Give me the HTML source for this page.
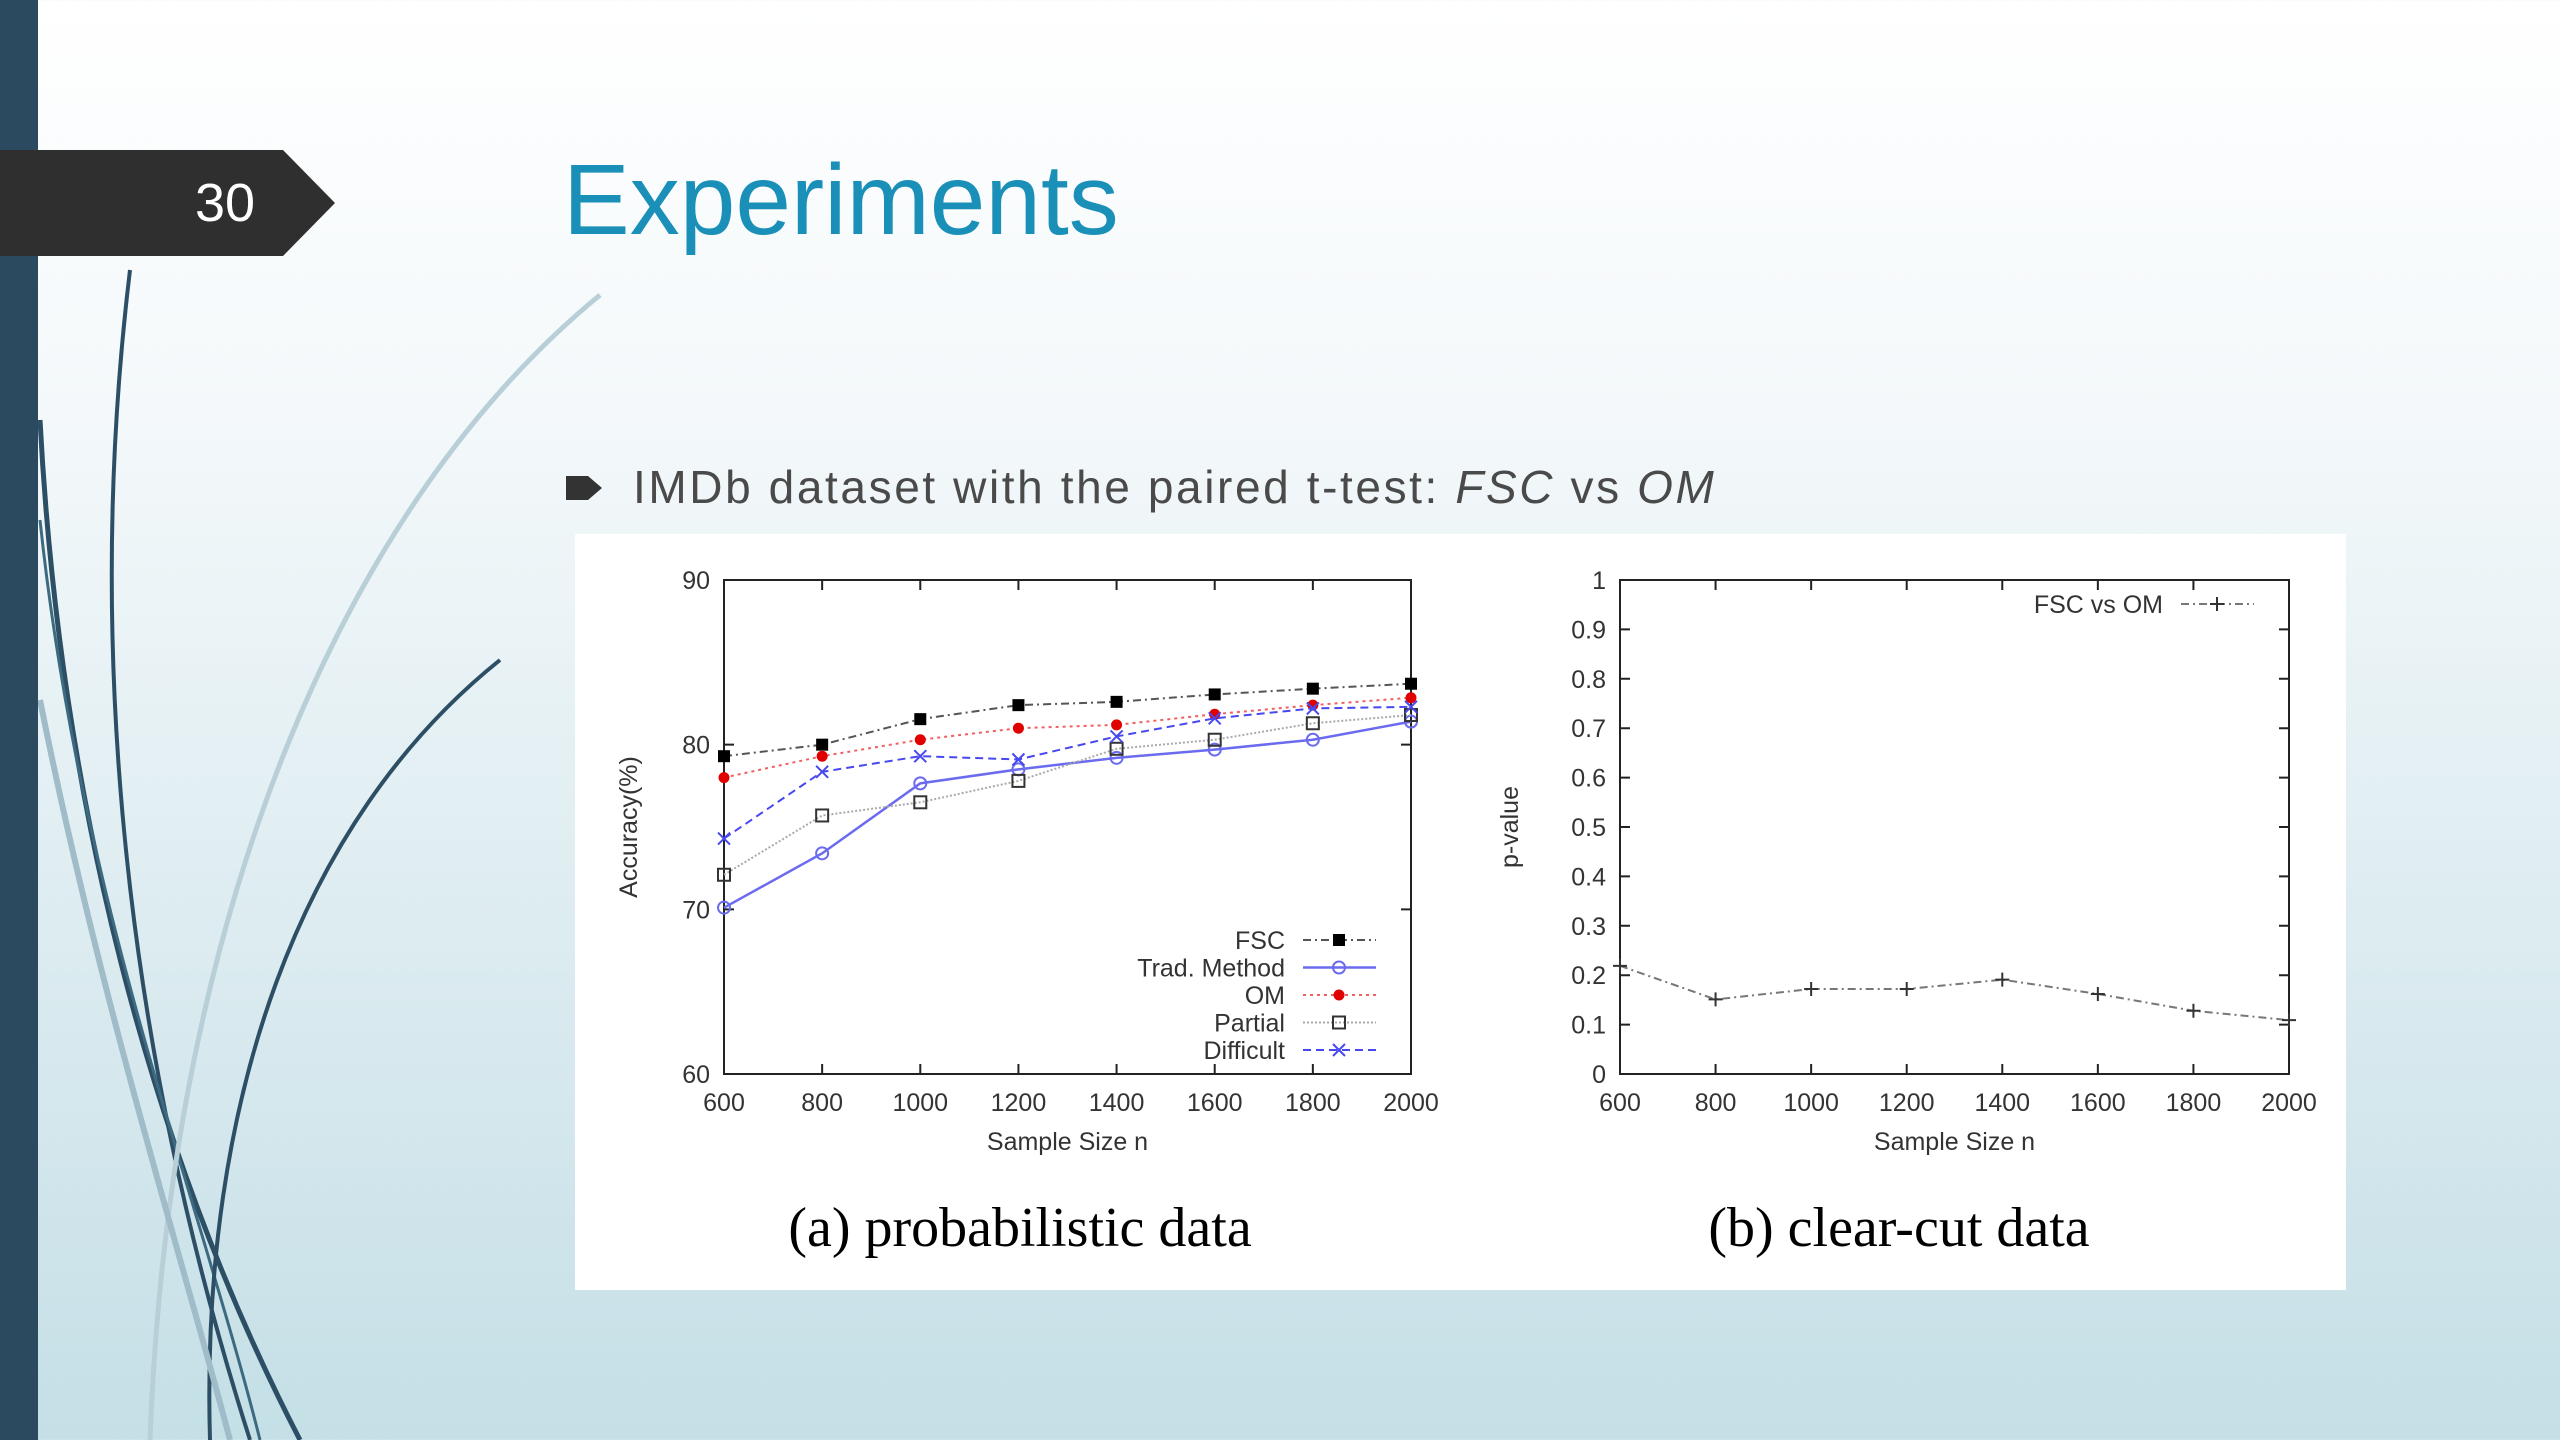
<!DOCTYPE html>
<html><head><meta charset="utf-8"><style>
html,body{margin:0;padding:0;width:2560px;height:1440px;overflow:hidden}
body{background:linear-gradient(180deg,#ffffff 0%,#f3f8fa 30%,#d9eaef 70%,#c4dfe6 100%);font-family:"Liberation Sans",sans-serif}
</style></head><body>
<svg id="s" width="2560" height="1440" viewBox="0 0 2560 1440" xmlns="http://www.w3.org/2000/svg">
<g fill="none">
<path d="M130 270 C 90 600, 110 1000, 250 1440" stroke="#2d4f66" stroke-width="4"/>
<path d="M40 420 C 60 800, 150 1150, 300 1440" stroke="#2d4f66" stroke-width="5"/>
<path d="M40 520 C 80 900, 200 1200, 260 1440" stroke="#3c6a80" stroke-width="3"/>
<path d="M500 660 C 300 820, 200 1100, 210 1440" stroke="#2d4f66" stroke-width="4"/>
<path d="M600 295 C 350 500, 170 900, 150 1440" stroke="#b9cfd8" stroke-width="5"/>
<path d="M40 700 C 100 1000, 180 1250, 230 1440" stroke="#9fbcc8" stroke-width="6"/>
</g>
<rect x="0" y="0" width="38" height="1440" fill="#2b4a5f"/>
<polygon points="0,150 283,150 335,203 283,256 0,256" fill="#2f2f2f"/>
<text x="225" y="221" font-size="54" fill="#fff" text-anchor="middle">30</text>
<text x="563" y="234" font-size="100" fill="#1a90b8">Experiments</text>
<path d="M566 476 h22 l14 12 l-14 12 h-22 z" fill="#333"/>
<text x="633" y="503" font-size="46" fill="#4a4a4a" letter-spacing="2.6">IMDb dataset with the paired t-test: <tspan font-style="italic">FSC</tspan> vs <tspan font-style="italic">OM</tspan></text>
<rect x="575" y="534" width="1771" height="756" fill="#fff"/>
<g id="c1"></g>
<g id="c2"></g>
<text x="1020" y="1246" font-size="56" font-family="Liberation Serif,serif" text-anchor="middle" fill="#000">(a)  probabilistic data</text>
<text x="1899" y="1246" font-size="56" font-family="Liberation Serif,serif" text-anchor="middle" fill="#000">(b)  clear-cut data</text>
</svg>
<script>
const xCats=[600,800,1000,1200,1400,1600,1800,2000];
const fsc=[79.3,80.0,81.55,82.4,82.6,83.05,83.4,83.7];
const trad=[70.1,73.4,77.65,78.5,79.2,79.7,80.3,81.4];
const om=[78.0,79.3,80.3,81.0,81.2,81.85,82.4,82.85];
const partial=[72.1,75.7,76.5,77.8,79.75,80.3,81.3,81.8];
const difficult=[74.3,78.35,79.3,79.1,80.5,81.6,82.2,82.3];
const accTicks=[60,70,80,90];
const pvals=[0.219,0.151,0.172,0.172,0.191,0.162,0.128,0.109];
const pTicks=[0,0.1,0.2,0.3,0.4,0.5,0.6,0.7,0.8,0.9,1];
const NS="http://www.w3.org/2000/svg";
function mk(p,t,a){const e=document.createElementNS(NS,t);for(const k in a)e.setAttribute(k,a[k]);p.appendChild(e);return e;}
function marker(g,kind,x,y,col){
 if(kind==='sq'){const m=mk(g,'rect',{x:x-6,y:y-6,width:12,height:12,fill:col});}
 else if(kind==='osq'){const m=mk(g,'rect',{x:x-6,y:y-6,width:12,height:12,fill:'none',stroke:col,'stroke-width':2});}
 else if(kind==='oc'){const m=mk(g,'circle',{cx:x,cy:y,r:6,fill:'none',stroke:col,'stroke-width':2});}
 else if(kind==='dot'){const m=mk(g,'circle',{cx:x,cy:y,r:5.5,fill:col});}
 else if(kind==='x'){const m=mk(g,'path',{d:`M${x-6} ${y-6}L${x+6} ${y+6}M${x-6} ${y+6}L${x+6} ${y-6}`,stroke:col,'stroke-width':2});}
 else {const m=mk(g,'path',{d:`M${x-7} ${y}L${x+7} ${y}M${x} ${y-7}L${x} ${y+7}`,stroke:col,'stroke-width':2});}
}
function chart(g,L,R,T,B,ymin,ymax,ticks,fmt,series,ylab,yx,legend){
 const sx=v=>L+(v-600)/(2000-600)*(R-L);
 const sy=v=>B-(v-ymin)/(ymax-ymin)*(B-T);
 const f=mk(g,'rect',{x:L,y:T,width:R-L,height:B-T,fill:'none',stroke:'#222','stroke-width':2});
 
 
 ticks.forEach(t=>{const y=sy(t);
  mk(g,'path',{d:`M${L} ${y}h10M${R} ${y}h-10`,stroke:'#222','stroke-width':2});
  const tx=mk(g,'text',{x:L-14,y:y+9,'font-size':25,'text-anchor':'end',fill:'#333'});tx.textContent=fmt(t);
  
  });
 xCats.forEach(c=>{const x=sx(c);
  mk(g,'path',{d:`M${x} ${B}v-10M${x} ${T}v10`,stroke:'#222','stroke-width':2});
  const tx=mk(g,'text',{x:x,y:B+37,'font-size':25,'text-anchor':'middle',fill:'#333'});tx.textContent=c;
  
  });
 const xl=mk(g,'text',{x:(L+R)/2,y:B+76,'font-size':25,'text-anchor':'middle',fill:'#333'});xl.textContent='Sample Size n';
 
 
 const yl=mk(g,'text',{x:0,y:0,'font-size':25,'text-anchor':'middle',fill:'#333',transform:`translate(${yx},${(T+B)/2}) rotate(-90)`});yl.textContent=ylab;
 
 
 series.forEach((s,i)=>{
  const sg=mk(g,'g',{});
  
  
  const pts=s.v.map((v,j)=>[sx(xCats[j]),sy(v)]);
  const ln=mk(sg,'polyline',{points:pts.map(p=>p.join(',')).join(' '),fill:'none',stroke:s.c,'stroke-width':s.w||2,'stroke-dasharray':s.d||''});
  
  
  pts.forEach(p=>marker(sg,s.m,p[0],p[1],s.mc||s.c));
  const ly=legend.y+i*legend.dy;
  const lg=mk(g,'g',{});
  
  
  const lt=mk(lg,'text',{x:legend.x,y:ly+9,'font-size':25,'text-anchor':'end',fill:'#333'});lt.textContent=s.name;
  mk(lg,'line',{x1:legend.x+18,y1:ly,x2:legend.x+91,y2:ly,stroke:s.c,'stroke-width':s.w||2,'stroke-dasharray':s.d||''});
  marker(lg,s.m,legend.x+54,ly,s.mc||s.c);
 });
}
chart(document.getElementById('c1'),724,1411,580,1074,60,90,accTicks,t=>String(t),[
 {id:'fsc',name:'FSC',v:fsc,c:'#555',mc:'#000',m:'sq',d:'8,4,2,4'},
 {id:'trad',name:'Trad. Method',v:trad,c:'#6b6bf0',m:'oc',w:2.5},
 {id:'om',name:'OM',v:om,c:'#f06060',mc:'#e00000',m:'dot',d:'3,4'},
 {id:'partial',name:'Partial',v:partial,c:'#aaa',mc:'#333',m:'osq',d:'2,2'},
 {id:'difficult',name:'Difficult',v:difficult,c:'#4848f0',m:'x',d:'8,5'}
],'Accuracy(%)',637,{x:1285,y:940,dy:27.5});
chart(document.getElementById('c2'),1620,2289,580,1074,0,1,pTicks,t=>String(+t.toFixed(1)),[
 {id:'fsc-vs-om',name:'FSC vs OM',v:pvals,c:'#777',mc:'#333',m:'plus',d:'8,4,2,4'}
],'p-value',1518,{x:2163,y:604,dy:0});
</script>
</body></html>
